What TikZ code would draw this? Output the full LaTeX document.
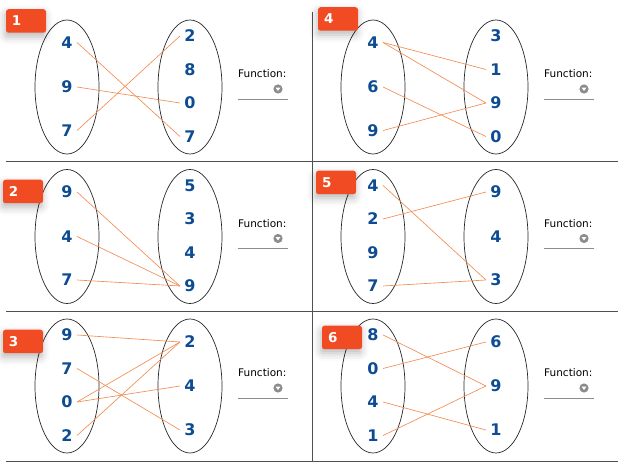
\documentclass[tikz,border=0pt]{standalone}
\usepackage{fontspec}
\setmainfont{DejaVu Sans}
\usetikzlibrary{shadows.blur}

\definecolor{numblue}{HTML}{0D4C92}
\definecolor{badgered}{HTML}{F14B24}
\definecolor{edgeorange}{HTML}{F28C52}
\definecolor{rulegray}{HTML}{505050}
\definecolor{dropgray}{HTML}{8C8C8C}

\tikzset{
  setline/.style={draw=black!85, line width=0.7pt},
  num/.style={font=\bfseries\fontsize{16}{17}\selectfont, text=numblue, inner xsep=4.3pt, inner ysep=1pt},
  edge/.style={draw=edgeorange, line width=0.65pt},
  fnlabel/.style={font=\fontsize{10.5}{12}\selectfont, anchor=west, inner sep=0pt},
  fnline/.style={draw=dropgray, line width=0.9pt},
  divider/.style={draw=rulegray, line width=0.9pt},
  badge/.style={fill=badgered, rounded corners=2.5pt, minimum height=23.5pt,
    text width=28pt, inner xsep=6pt, inner ysep=0pt, align=left, text=white,
    font=\bfseries\fontsize{13.5}{14}\selectfont,
    blur shadow={shadow xshift=-1pt, shadow yshift=-4pt, shadow blur radius=8pt, shadow opacity=28}}
}

% #1 name prefix, #2 x of the domain oval, #3 y of the row centre,
% #4 domain values/offsets, #5 codomain values/offsets
\newcommand\mappanel[5]{%
  \draw[setline] (#2,#3) ellipse [x radius=32, y radius=67];
  \draw[setline] ({#2+123},#3) ellipse [x radius=32, y radius=67];
  \foreach \v/\dy [count=\i] in {#4}
    \node[num] (#1L\i) at (#2,{#3+(\dy)}) {\v};
  \foreach \v/\dy [count=\i] in {#5}
    \node[num] (#1R\i) at ({#2+123},{#3+(\dy)}) {\v};
  \node[fnlabel] (#1fn) at ({#2+171},{#3-13}) {Function:};
  \fill[dropgray] ({#2+211},{#3+2}) circle (4.6);
  \fill[white] ({#2+208.6},{#3+0.6}) -- ({#2+213.4},{#3+0.6}) -- ({#2+211},{#3+4}) -- cycle;
  \draw[fnline] ({#2+171},{#3+12}) -- ({#2+221},{#3+12});
}

\begin{document}
\begin{tikzpicture}[x=1pt, y=-1pt]
\useasboundingbox (0,0) rectangle (641,462);

% grid of dividers
\draw[divider] (6,161.5) -- (618,161.5);
\draw[divider] (6,311) -- (618,311);
\draw[divider] (6,461) -- (618,461);
\draw[divider] (312.5,12) -- (312.5,461);

% panels
\mappanel{a}{67}{87}{4/-44.5, 9/0, 7/43.5}{2/-51, 8/-17.5, 0/16, 7/49.5}
\mappanel{b}{67}{236.5}{9/-44.5, 4/0, 7/43.5}{5/-51, 3/-17.5, 4/16, 9/49.5}
\mappanel{c}{67}{386}{9/-51, 7/-17.5, 0/16, 2/49.5}{2/-44, 4/0, 3/44}
\mappanel{d}{373}{87}{4/-44.5, 6/0, 9/43.5}{3/-51, 1/-17.5, 9/16, 0/49.5}
\mappanel{e}{373}{236.5}{4/-51, 2/-17.5, 9/16, 7/49.5}{9/-44.5, 4/0, 3/43.5}
\mappanel{f}{373}{386}{8/-51, 0/-17.5, 4/16, 1/49.5}{6/-44, 9/0, 1/44}

% arrows of each relation
\draw[edge] (aL1.east) -- (aR4.west);
\draw[edge] (aL2.east) -- (aR3.west);
\draw[edge] (aL3.east) -- (aR1.west);

\draw[edge] (bL1.east) -- (bR4.west);
\draw[edge] (bL2.east) -- (bR4.west);
\draw[edge] (bL3.east) -- (bR4.west);

\draw[edge] (cL1.east) -- (cR1.west);
\draw[edge] (cL2.east) -- (cR3.west);
\draw[edge] (cL3.east) -- (cR1.west);
\draw[edge] (cL3.east) -- (cR2.west);
\draw[edge] (cL4.east) -- (cR1.west);

\draw[edge] (dL1.east) -- (dR2.west);
\draw[edge] (dL1.east) -- (dR3.west);
\draw[edge] (dL2.east) -- (dR4.west);
\draw[edge] (dL3.east) -- (dR3.west);

\draw[edge] (eL1.east) -- (eR3.west);
\draw[edge] (eL2.east) -- (eR1.west);
\draw[edge] (eL4.east) -- (eR3.west);

\draw[edge] (fL1.east) -- (fR2.west);
\draw[edge] (fL2.east) -- (fR1.west);
\draw[edge] (fL3.east) -- (fR3.west);
\draw[edge] (fL4.east) -- (fR2.west);

% numbered badges
\node[badge] (b1) at (26,21) {1};
\node[badge] (b4) at (338,19) {4};
\node[badge] (b2) at (23,191.5) {2};
\node[badge] (b5) at (336,182.5) {5};
\node[badge] (b3) at (23,341.5) {3};
\node[badge] (b6) at (342,337.5) {6};
\end{tikzpicture}
\end{document}
